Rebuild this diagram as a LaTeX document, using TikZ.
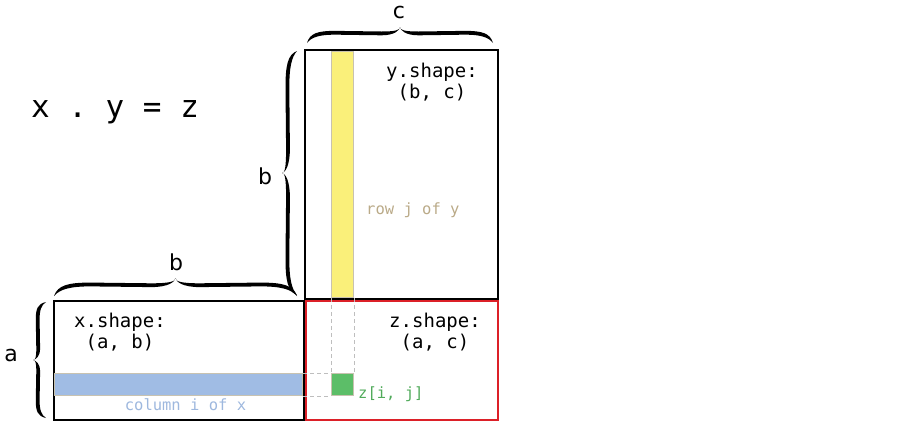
\documentclass[tikz,border=0pt]{standalone}
\usepackage{fontspec}
\setmainfont{DejaVu Sans}
\setmonofont{DejaVu Sans Mono}
\definecolor{redbox}{RGB}{220,32,40}
\definecolor{yelbar}{RGB}{250,240,122}
\definecolor{bluebar}{RGB}{160,188,228}
\definecolor{greensq}{RGB}{92,190,104}
\definecolor{barline}{RGB}{200,194,176}
\definecolor{tantext}{RGB}{186,170,136}
\definecolor{bluetext}{RGB}{158,184,222}
\definecolor{greentext}{RGB}{80,170,90}
\definecolor{dashgray}{RGB}{190,190,190}
% half of a calligraphic brace: #1 = half length, #2 = amplitude
\newcommand\halfbrace[2]{%
 \fill (0,0) .. controls ({0.03*#1},{-0.5*#2-1.9}) and ({0.12*#1},{-0.64*#2-1.9}) .. ({0.3*#1},{-0.64*#2-1.9})
   -- ({0.8*#1},{-0.6*#2-1.9}) .. controls ({0.95*#1},{-0.6*#2-1.9}) and ({#1},{-0.8*#2}) .. ({#1},{-#2})
   .. controls ({#1-0.6},{-0.78*#2}) and ({0.94*#1},{-0.6*#2+1.9}) .. ({0.8*#1},{-0.6*#2+1.9})
   -- ({0.3*#1},{-0.64*#2+1.9}) .. controls ({0.14*#1},{-0.64*#2+1.9}) and ({0.05*#1},{-0.5*#2+1.9}) .. (0,0) -- cycle;}
\tikzset{
  mat/.style={draw=black,line width=2.4bp,inner sep=0pt,anchor=north west},
  bar/.style={draw=barline,line width=1bp,inner sep=0pt,anchor=north west},
  pics/cbrace/.style 2 args={code={%
    \halfbrace{#1*0.5}{#2}
    \begin{scope}[shift={(#1,0)},xscale=-1]\halfbrace{#1*0.5}{#2}\end{scope}}},
  bracelab/.style={font=\fontsize{22bp}{24bp}\selectfont},
  shapelab/.style={font=\fontsize{19bp}{21bp}\ttfamily,align=center,inner sep=0pt},
  smalllab/.style={font=\fontsize{15.5bp}{17bp}\ttfamily,inner sep=0pt},
  guide/.style={draw=dashgray,line width=1bp,dash pattern=on 4bp off 3bp}
}
\begin{document}
\begin{tikzpicture}[x=1bp,y=-1bp]
\useasboundingbox (0,0) rectangle (902,427);
% matrices
\node[mat,minimum width=193bp,minimum height=249bp] (ybox) at (304,49) {};
\node[mat,minimum width=250bp,minimum height=119bp] (xbox) at (53,300) {};
\node[mat,draw=redbox,minimum width=192bp,minimum height=119bp] (zbox) at (305,300) {};
% bars
\node[bar,fill=yelbar,minimum width=22bp,minimum height=246bp] (ybar) at (331,51) {};
\node[bar,fill=bluebar,minimum width=248bp,minimum height=22bp] (xbar) at (54,373) {};
\node[bar,fill=greensq,minimum width=22bp,minimum height=22bp] (zcell) at (331,373) {};
% guides
\draw[guide] (ybar.south west) -- (zcell.north west);
\draw[guide] (ybar.south east) -- (zcell.north east);
\draw[guide] (xbar.north east) -- (zcell.north west);
\draw[guide] (xbar.south east) -- (zcell.south west);
% braces
\pic at (307,43) {cbrace={186}{16}};
\node[bracelab] (clab) at (399,12) {c};
\pic[rotate=90] at (297,295) {cbrace={244}{15}};
\node[bracelab] (blab1) at (265,176) {b};
\pic at (54,296) {cbrace={243}{18}};
\node[bracelab] (blab2) at (176,262) {b};
\pic[rotate=90] at (46,418) {cbrace={116}{13}};
\node[bracelab] (alab) at (11,355) {a};
% title
\node[font=\fontsize{31bp}{33bp}\ttfamily,inner sep=0pt] (title) at (115,112) {x . y = z};
% shape labels
\node[shapelab] (ylab) at (432,82.5) {y.shape:\\(b, c)};
\node[shapelab] (xlab) at (120,332.5) {x.shape:\\(a, b)};
\node[shapelab] (zlab) at (435,332.5) {z.shape:\\(a, c)};
% small labels
\node[smalllab,text=tantext,anchor=west] (rowlab) at (366,210) {row j of y};
\node[smalllab,text=bluetext] (collab) at (185.5,405) {column i of x};
\node[smalllab,text=greentext,anchor=west] (zijlab) at (358,394) {z[i, j]};
\end{tikzpicture}
\end{document}
